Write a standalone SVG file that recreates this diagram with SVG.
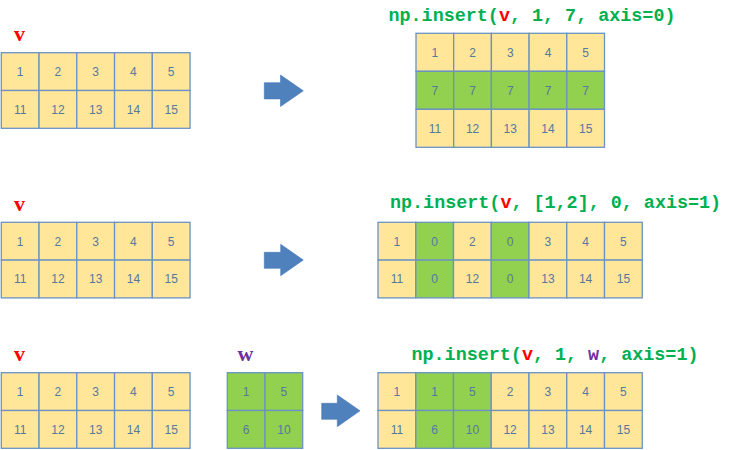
<svg xmlns="http://www.w3.org/2000/svg" width="735" height="450" viewBox="0 0 735 450">
<style>
.y{fill:#FFE699;stroke:#6A93C4;stroke-width:1.3}
.g{fill:#92D050;stroke:#6A93C4;stroke-width:1.3}
.n{font-family:"Liberation Sans",Arial,sans-serif;font-size:12px;fill:#56779F;text-anchor:middle}
.t{font-family:"Liberation Mono","Courier New",monospace;font-weight:bold;font-size:18.4px;fill:#00B050}
.lv{font-family:"Liberation Serif","Times New Roman",serif;font-weight:bold;font-size:22px;fill:#FF0000}
.lw{font-family:"Liberation Serif","Times New Roman",serif;font-weight:bold;font-size:22px;fill:#7030A0}
.ar{fill:#4F81BD;stroke:#4677B3;stroke-width:0.6}
</style>
<rect width="735" height="450" fill="#FFFFFF"/>

<!-- Row 1 -->
<g id="label-v1"><text class="lv" x="14" y="41">v</text></g>
<g id="grid-v1">
<rect class="y" x="1.3" y="52.7" width="37.75" height="37.8"/><rect class="y" x="39.05" y="52.7" width="37.75" height="37.8"/><rect class="y" x="76.8" y="52.7" width="37.75" height="37.8"/><rect class="y" x="114.55" y="52.7" width="37.75" height="37.8"/><rect class="y" x="152.3" y="52.7" width="37.75" height="37.8"/>
<rect class="y" x="1.3" y="90.5" width="37.75" height="37.8"/><rect class="y" x="39.05" y="90.5" width="37.75" height="37.8"/><rect class="y" x="76.8" y="90.5" width="37.75" height="37.8"/><rect class="y" x="114.55" y="90.5" width="37.75" height="37.8"/><rect class="y" x="152.3" y="90.5" width="37.75" height="37.8"/>
<text class="n" x="20.2" y="75.9">1</text><text class="n" x="57.9" y="75.9">2</text><text class="n" x="95.7" y="75.9">3</text><text class="n" x="133.4" y="75.9">4</text><text class="n" x="171.2" y="75.9">5</text>
<text class="n" x="20.2" y="113.7">11</text><text class="n" x="57.9" y="113.7">12</text><text class="n" x="95.7" y="113.7">13</text><text class="n" x="133.4" y="113.7">14</text><text class="n" x="171.2" y="113.7">15</text>
</g>
<g id="title-1"><text class="t" x="388.5" y="20.5">np.insert(<tspan fill="#FF0000">v</tspan>, 1, 7, axis=0)</text></g>
<g id="grid-r1">
<rect class="y" x="416" y="33.3" width="37.7" height="38"/><rect class="y" x="453.7" y="33.3" width="37.7" height="38"/><rect class="y" x="491.4" y="33.3" width="37.7" height="38"/><rect class="y" x="529.1" y="33.3" width="37.7" height="38"/><rect class="y" x="566.8" y="33.3" width="37.7" height="38"/>
<rect class="g" x="416" y="71.3" width="37.7" height="38"/><rect class="g" x="453.7" y="71.3" width="37.7" height="38"/><rect class="g" x="491.4" y="71.3" width="37.7" height="38"/><rect class="g" x="529.1" y="71.3" width="37.7" height="38"/><rect class="g" x="566.8" y="71.3" width="37.7" height="38"/>
<rect class="y" x="416" y="109.3" width="37.7" height="38"/><rect class="y" x="453.7" y="109.3" width="37.7" height="38"/><rect class="y" x="491.4" y="109.3" width="37.7" height="38"/><rect class="y" x="529.1" y="109.3" width="37.7" height="38"/><rect class="y" x="566.8" y="109.3" width="37.7" height="38"/>
<text class="n" x="434.9" y="56.6">1</text><text class="n" x="472.6" y="56.6">2</text><text class="n" x="510.3" y="56.6">3</text><text class="n" x="548" y="56.6">4</text><text class="n" x="585.7" y="56.6">5</text>
<text class="n" x="434.9" y="94.6">7</text><text class="n" x="472.6" y="94.6">7</text><text class="n" x="510.3" y="94.6">7</text><text class="n" x="548" y="94.6">7</text><text class="n" x="585.7" y="94.6">7</text>
<text class="n" x="434.9" y="132.6">11</text><text class="n" x="472.6" y="132.6">12</text><text class="n" x="510.3" y="132.6">13</text><text class="n" x="548" y="132.6">14</text><text class="n" x="585.7" y="132.6">15</text>
</g>

<!-- Row 2 -->
<g id="label-v2"><text class="lv" x="14" y="211">v</text></g>
<g id="grid-v2">
<rect class="y" x="1.3" y="222.3" width="37.75" height="37.8"/><rect class="y" x="39.05" y="222.3" width="37.75" height="37.8"/><rect class="y" x="76.8" y="222.3" width="37.75" height="37.8"/><rect class="y" x="114.55" y="222.3" width="37.75" height="37.8"/><rect class="y" x="152.3" y="222.3" width="37.75" height="37.8"/>
<rect class="y" x="1.3" y="260.1" width="37.75" height="37.8"/><rect class="y" x="39.05" y="260.1" width="37.75" height="37.8"/><rect class="y" x="76.8" y="260.1" width="37.75" height="37.8"/><rect class="y" x="114.55" y="260.1" width="37.75" height="37.8"/><rect class="y" x="152.3" y="260.1" width="37.75" height="37.8"/>
<text class="n" x="20.2" y="245.5">1</text><text class="n" x="57.9" y="245.5">2</text><text class="n" x="95.7" y="245.5">3</text><text class="n" x="133.4" y="245.5">4</text><text class="n" x="171.2" y="245.5">5</text>
<text class="n" x="20.2" y="283.3">11</text><text class="n" x="57.9" y="283.3">12</text><text class="n" x="95.7" y="283.3">13</text><text class="n" x="133.4" y="283.3">14</text><text class="n" x="171.2" y="283.3">15</text>
</g>
<g id="title-2"><text class="t" x="390" y="208.3">np.insert(<tspan fill="#FF0000">v</tspan>, [1,2], 0, axis=1)</text></g>
<g id="grid-r2">
<rect class="y" x="378" y="222.3" width="37.75" height="37.8"/><rect class="g" x="415.75" y="222.3" width="37.75" height="37.8"/><rect class="y" x="453.5" y="222.3" width="37.75" height="37.8"/><rect class="g" x="491.25" y="222.3" width="37.75" height="37.8"/><rect class="y" x="529" y="222.3" width="37.75" height="37.8"/><rect class="y" x="566.75" y="222.3" width="37.75" height="37.8"/><rect class="y" x="604.5" y="222.3" width="37.75" height="37.8"/>
<rect class="y" x="378" y="260.1" width="37.75" height="37.8"/><rect class="g" x="415.75" y="260.1" width="37.75" height="37.8"/><rect class="y" x="453.5" y="260.1" width="37.75" height="37.8"/><rect class="g" x="491.25" y="260.1" width="37.75" height="37.8"/><rect class="y" x="529" y="260.1" width="37.75" height="37.8"/><rect class="y" x="566.75" y="260.1" width="37.75" height="37.8"/><rect class="y" x="604.5" y="260.1" width="37.75" height="37.8"/>
<text class="n" x="396.9" y="245.5">1</text><text class="n" x="434.6" y="245.5">0</text><text class="n" x="472.4" y="245.5">2</text><text class="n" x="510.1" y="245.5">0</text><text class="n" x="547.9" y="245.5">3</text><text class="n" x="585.6" y="245.5">4</text><text class="n" x="623.4" y="245.5">5</text>
<text class="n" x="396.9" y="283.3">11</text><text class="n" x="434.6" y="283.3">0</text><text class="n" x="472.4" y="283.3">12</text><text class="n" x="510.1" y="283.3">0</text><text class="n" x="547.9" y="283.3">13</text><text class="n" x="585.6" y="283.3">14</text><text class="n" x="623.4" y="283.3">15</text>
</g>

<!-- Row 3 -->
<g id="label-v3"><text class="lv" x="14" y="361">v</text></g>
<g id="grid-v3">
<rect class="y" x="1.3" y="372.7" width="37.75" height="37.8"/><rect class="y" x="39.05" y="372.7" width="37.75" height="37.8"/><rect class="y" x="76.8" y="372.7" width="37.75" height="37.8"/><rect class="y" x="114.55" y="372.7" width="37.75" height="37.8"/><rect class="y" x="152.3" y="372.7" width="37.75" height="37.8"/>
<rect class="y" x="1.3" y="410.5" width="37.75" height="37.8"/><rect class="y" x="39.05" y="410.5" width="37.75" height="37.8"/><rect class="y" x="76.8" y="410.5" width="37.75" height="37.8"/><rect class="y" x="114.55" y="410.5" width="37.75" height="37.8"/><rect class="y" x="152.3" y="410.5" width="37.75" height="37.8"/>
<text class="n" x="20.2" y="395.9">1</text><text class="n" x="57.9" y="395.9">2</text><text class="n" x="95.7" y="395.9">3</text><text class="n" x="133.4" y="395.9">4</text><text class="n" x="171.2" y="395.9">5</text>
<text class="n" x="20.2" y="433.7">11</text><text class="n" x="57.9" y="433.7">12</text><text class="n" x="95.7" y="433.7">13</text><text class="n" x="133.4" y="433.7">14</text><text class="n" x="171.2" y="433.7">15</text>
</g>
<g id="label-w"><text class="lw" x="237.5" y="361">w</text></g>
<g id="grid-w">
<rect class="g" x="227.3" y="372.7" width="37.7" height="37.8"/><rect class="g" x="265" y="372.7" width="37.7" height="37.8"/>
<rect class="g" x="227.3" y="410.5" width="37.7" height="37.8"/><rect class="g" x="265" y="410.5" width="37.7" height="37.8"/>
<text class="n" x="246.2" y="395.9">1</text><text class="n" x="283.9" y="395.9">5</text>
<text class="n" x="246.2" y="433.7">6</text><text class="n" x="283.9" y="433.7">10</text>
</g>
<g id="title-3"><text class="t" x="411.5" y="360">np.insert(<tspan fill="#FF0000">v</tspan>, 1, <tspan fill="#7030A0">w</tspan>, axis=1)</text></g>
<g id="grid-r3">
<rect class="y" x="378" y="372.7" width="37.75" height="37.8"/><rect class="g" x="415.75" y="372.7" width="37.75" height="37.8"/><rect class="g" x="453.5" y="372.7" width="37.75" height="37.8"/><rect class="y" x="491.25" y="372.7" width="37.75" height="37.8"/><rect class="y" x="529" y="372.7" width="37.75" height="37.8"/><rect class="y" x="566.75" y="372.7" width="37.75" height="37.8"/><rect class="y" x="604.5" y="372.7" width="37.75" height="37.8"/>
<rect class="y" x="378" y="410.5" width="37.75" height="37.8"/><rect class="g" x="415.75" y="410.5" width="37.75" height="37.8"/><rect class="g" x="453.5" y="410.5" width="37.75" height="37.8"/><rect class="y" x="491.25" y="410.5" width="37.75" height="37.8"/><rect class="y" x="529" y="410.5" width="37.75" height="37.8"/><rect class="y" x="566.75" y="410.5" width="37.75" height="37.8"/><rect class="y" x="604.5" y="410.5" width="37.75" height="37.8"/>
<text class="n" x="396.9" y="395.9">1</text><text class="n" x="434.6" y="395.9">1</text><text class="n" x="472.4" y="395.9">5</text><text class="n" x="510.1" y="395.9">2</text><text class="n" x="547.9" y="395.9">3</text><text class="n" x="585.6" y="395.9">4</text><text class="n" x="623.4" y="395.9">5</text>
<text class="n" x="396.9" y="433.7">11</text><text class="n" x="434.6" y="433.7">6</text><text class="n" x="472.4" y="433.7">10</text><text class="n" x="510.1" y="433.7">12</text><text class="n" x="547.9" y="433.7">13</text><text class="n" x="585.6" y="433.7">14</text><text class="n" x="623.4" y="433.7">15</text>
</g>

<g id="connectors">
<polygon class="ar" points="264.3,82.7 280.5,82.7 280.5,75 303.3,90.8 280.5,106.5 280.5,98.9 264.3,98.9"/>
<polygon class="ar" points="264.3,252.3 280.7,252.3 280.7,244.3 303.3,260 280.7,275.7 280.7,268.3 264.3,268.3"/>
<polygon class="ar" points="321.7,403.3 337.3,403.3 337.3,395 360,410.8 337.3,426.7 337.3,419.3 321.7,419.3"/>
</g>
</svg>
